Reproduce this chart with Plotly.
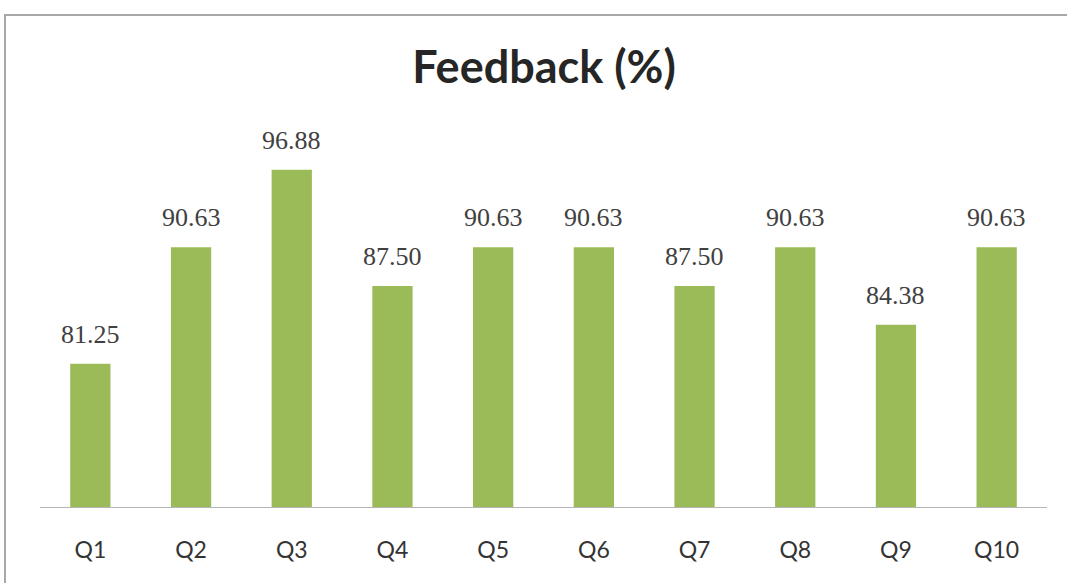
import plotly.graph_objects as go

categories = ["Q1", "Q2", "Q3", "Q4", "Q5", "Q6", "Q7", "Q8", "Q9", "Q10"]
values = [81.25, 90.63, 96.88, 87.50, 90.63, 90.63, 87.50, 90.63, 84.38, 90.63]
labels = ["81.25", "90.63", "96.88", "87.50", "90.63", "90.63", "87.50", "90.63", "84.38", "90.63"]

W, H = 1067, 583
L, R, T, B = 40, 20, 131, 76
pw = W - L - R
ph = H - T - B

fig = go.Figure()
fig.add_trace(go.Bar(
    x=categories, y=values,
    marker=dict(color="#9BBB59", line=dict(width=0)),
    width=0.4,
    hoverinfo="skip",
))

for c, v, t in zip(categories, values, labels):
    fig.add_annotation(x=c, y=v, text=t, showarrow=False, yanchor="bottom",
                       yshift=13, font=dict(family="Liberation Serif", size=26, color="#404040"))

# outer chart border
fig.add_shape(type="rect", xref="paper", yref="paper",
              x0=(5 - L) / pw, x1=(W + 20 - L) / pw,
              y0=(H - B - (H + 20)) / ph, y1=(H - B - 15) / ph,
              line=dict(color="#a8a8a8", width=2), fillcolor="rgba(0,0,0,0)", layer="below")

fig.update_layout(
    width=W, height=H,
    margin=dict(l=L, r=R, t=T, b=B),
    paper_bgcolor="white", plot_bgcolor="white",
    showlegend=False,
    title=dict(text="<b>Feedback (%)</b>", x=544 / W, xanchor="center",
               y=1 - 67 / H, yanchor="middle",
               font=dict(family="Lato", size=45, color="#262626")),
    xaxis=dict(showgrid=False, showline=True, linecolor="#b5b5b5", linewidth=1,
               ticks="", tickfont=dict(family="Lato", size=23, color="#333333"),
               ticklabelstandoff=22, fixedrange=True),
    yaxis=dict(range=[69.7, 100], visible=False, showgrid=False, fixedrange=True),
)

fig.write_html("out.html", config={"displayModeBar": False},
               post_script="document.body.style.margin='0';document.body.style.overflow='hidden';")
